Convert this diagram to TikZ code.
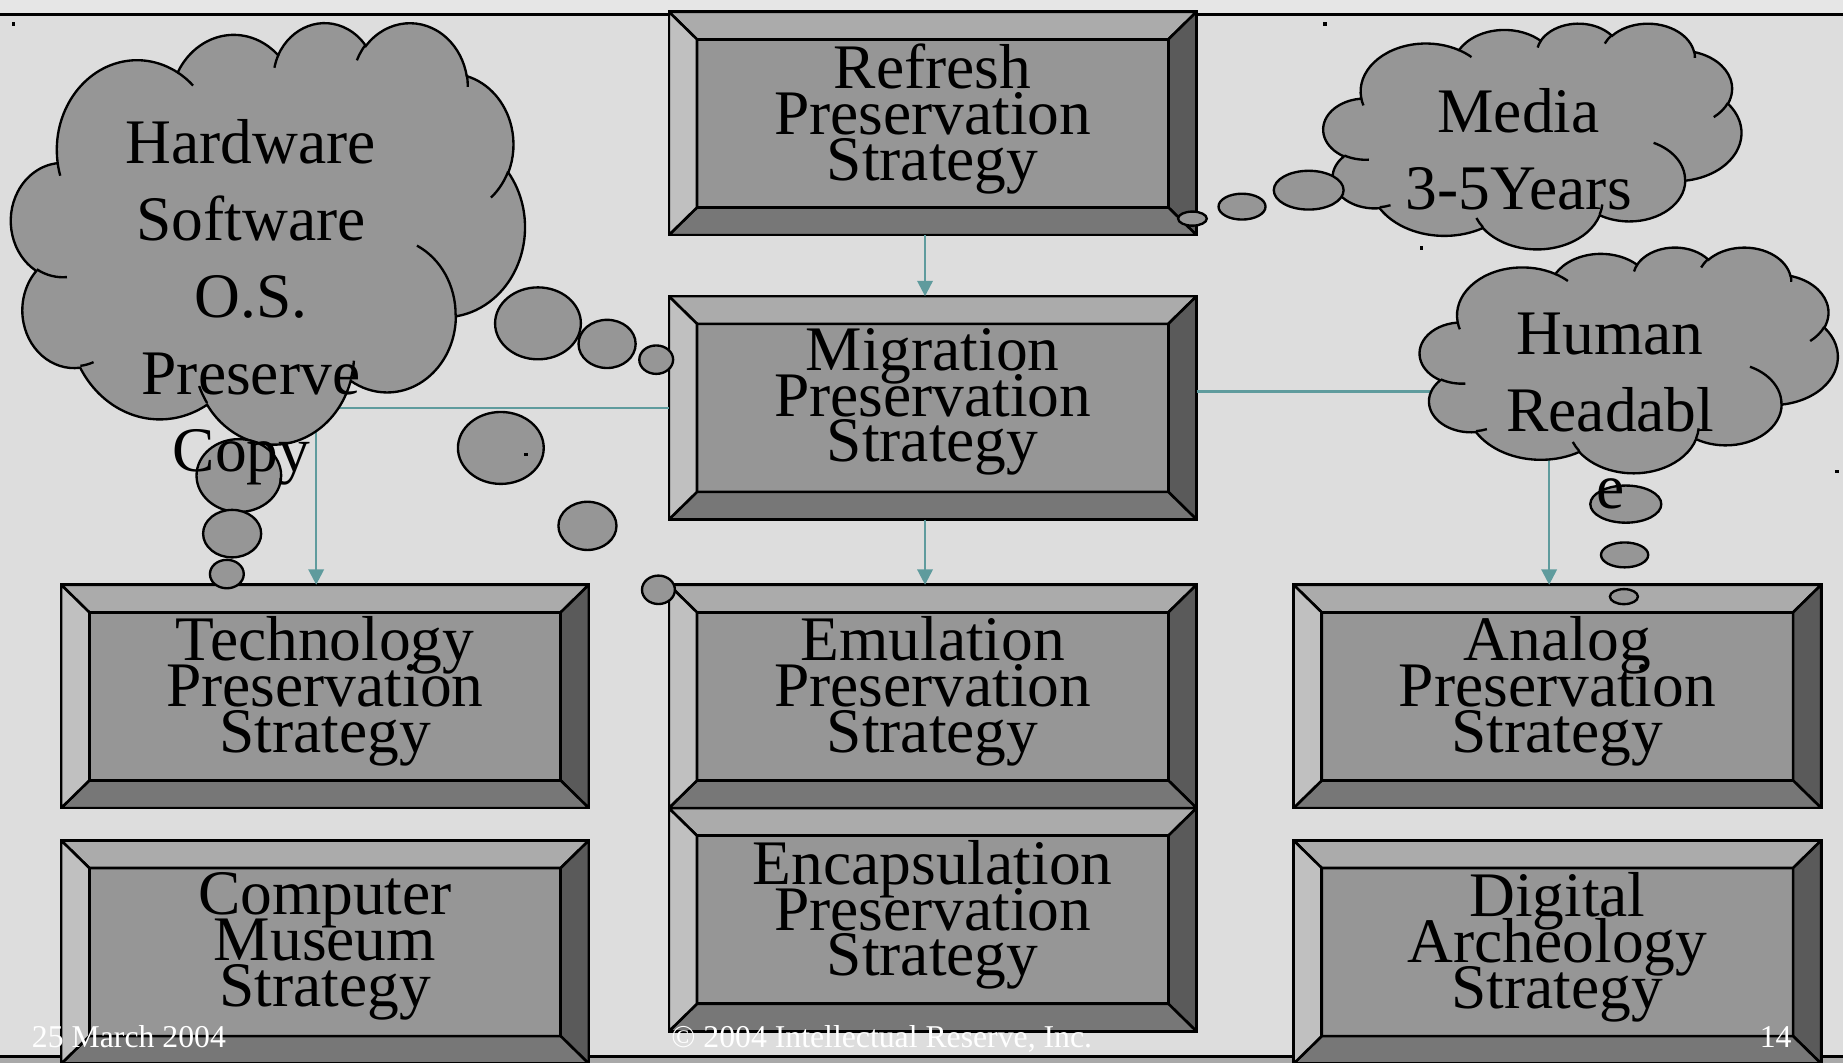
\documentclass[tikz,border=0pt]{standalone}
\usepackage{fontspec}
\setmainfont{Liberation Serif}
\usetikzlibrary{arrows.meta}
\definecolor{bgmain}{HTML}{DDDDDD}
\definecolor{bgtop}{HTML}{E6E6E6}
\definecolor{bgbot}{HTML}{A9A9A9}
\definecolor{face}{HTML}{969696}
\definecolor{bevT}{HTML}{ABABAB}
\definecolor{bevL}{HTML}{C0C0C0}
\definecolor{bevR}{HTML}{5A5A5A}
\definecolor{bevB}{HTML}{777777}
\definecolor{connc}{HTML}{5F9B9D}
\newcommand\boxfont{\fontsize{54pt}{39pt}\selectfont\lineskiplimit=-100pt\lineskip=0pt}
\newcommand\cloudfont{\fontsize{54pt}{65.6pt}\selectfont}
\newcommand\footfont{\fontsize{27pt}{30pt}\selectfont}
\tikzset{
  carc/.code n args={4}{%
    \pgfmathsetmacro\carcS{atan2((#1)*sin(#3),(#2)*cos(#3))}%
    \pgfmathsetmacro\carcE{atan2((#1)*sin((#3)+(#4)),(#2)*cos((#3)+(#4)))}%
    \pgfmathsetmacro\carcD{\carcE-\carcS}%
    \pgfmathsetmacro\carcD{\carcD+360*((#4)>0)*(\carcD<0)-360*((#4)<0)*(\carcD>0)}%
    \edef\carcTmp{\noexpand\pgfkeysalso{x radius=#1,y radius=#2,start angle=\carcS,delta angle=\carcD}}%
    \carcTmp},
  cloudst/.style={fill=face,draw=black,line width=2pt},
  stubst/.style={draw=black,line width=2pt},
  bevelbox/.style={draw=black,line width=2.2pt,fill=face,minimum width=449pt,minimum height=190pt,
    inner sep=0pt,outer sep=0pt,
    path picture={
      \coordinate (bA) at (path picture bounding box.north west);
      \coordinate (bC) at (path picture bounding box.south east);
      \coordinate (bB) at (bA -| bC);
      \coordinate (bD) at (bC -| bA);
      \coordinate (ba) at ([shift={(24,23.5)}]bA);
      \coordinate (bb) at ([shift={(-24,23.5)}]bB);
      \coordinate (bc) at ([shift={(-24,-23.5)}]bC);
      \coordinate (bd) at ([shift={(24,-23.5)}]bD);
      \filldraw[fill=bevT,draw=black,line width=2.2pt] (bA)--(bB)--(bb)--(ba)--cycle;
      \filldraw[fill=bevR,draw=black,line width=2.2pt] (bB)--(bC)--(bc)--(bb)--cycle;
      \filldraw[fill=bevB,draw=black,line width=2.2pt] (bC)--(bD)--(bd)--(bc)--cycle;
      \filldraw[fill=bevL,draw=black,line width=2.2pt] (bD)--(bA)--(ba)--(bd)--cycle;
      \draw[black,line width=2.2pt] (ba)--(bb)--(bc)--(bd)--cycle;
    }},
  btext/.style={font=\boxfont,align=center,anchor=north,inner sep=0pt},
  ctext/.style={font=\cloudfont,align=center,anchor=north,inner sep=0pt},
  foot/.style={font=\footfont,text=white,anchor=base west,inner sep=0pt},
  conn/.style={draw=connc,line width=2pt,-{Triangle[length=13pt,width=13pt]}},
}
\newcommand\pptcloud{%
  \filldraw[cloudst] (39.00,143.70)
    arc[carc={67.53}{91.90}{-190.48748}{123.78053}]
    arc[carc={53.33}{72.67}{-144.10238}{89.94523}]
    arc[carc={43.65}{59.45}{-145.80792}{99.72302}]
    arc[carc={48.57}{65.95}{-130.98607}{117.24173}]
    arc[carc={53.33}{72.73}{-78.70888}{109.02692}]
    arc[carc={67.75}{92.20}{-46.26725}{130.269}]
    arc[carc={57.85}{78.67}{0.62502}{114.03333}]
    arc[carc={67.52}{92.15}{22.4516}{115.17255}]
    arc[carc={77.20}{105.43}{66.24263}{75.71102}]
    arc[carc={43.60}{59.18}{-274.94208}{146.73557}]
    arc[carc={43.45}{59.45}{-246.8285}{152.51885}]
    -- cycle;
  \draw[stubst]
    (46.93,261.77) arc[carc={43.45}{59.45}{86.742}{26.4295}]
    (69.28,348.99) arc[carc={43.60}{59.18}{73.61047}{11.44747}]
    (164.78,390.90) arc[carc={67.52}{92.15}{137.62415}{14.0811}]
    (288.27,347.51) arc[carc={67.52}{92.15}{6.45327}{15.99835}]
    (341.29,229.54) arc[carc={57.85}{78.67}{-70.29235}{70.91737}]
    (417.98,153.54) arc[carc={53.33}{72.73}{30.31803}{27.7515}]
    (383.24,54.26) arc[carc={48.57}{65.95}{-13.74433}{14.8589}]
    (290.78,39.52) arc[carc={48.57}{65.95}{-149.18145}{18.19537}]
    (221.41,47.20) arc[carc={43.65}{59.45}{-163.49427}{17.68635}]
    (140.00,51.92) arc[carc={67.53}{91.90}{-66.70695}{12.31935}]
    (41.27,157.89) arc[carc={67.53}{91.90}{157.65435}{11.85817}];
}
\begin{document}
\begin{tikzpicture}[x=1pt,y=-1pt]
\useasboundingbox (0,0) rectangle (1568,904);
% background
\fill[bgmain] (0,0) rectangle (1568,904);
\fill[bgtop] (0,0) rectangle (1568,12);
\fill[bgbot] (0,899) rectangle (1568,904);
\draw[black,line width=2.5pt] (0,12) -- (1568,12);
\draw[black,line width=2.5pt] (0,898.5) -- (1568,898.5);
% boxes
\node[bevelbox] (refresh) at (793.5,105) {};
\node[bevelbox] (migration) at (793.5,347) {};
\node[bevelbox] (technology) at (276.5,592.5) {};
\node[bevelbox] (museum) at (276.5,810) {};
\node[bevelbox] (emulation) at (793.5,592.5) {};
\node[bevelbox] (encapsulation) at (793.5,782.5) {};
\node[bevelbox] (analog) at (1325,592.5) {};
\node[bevelbox] (digital) at (1325,810) {};
% connectors
\coordinate (cxa) at (787,0);
\coordinate (lx) at (269,347);
\coordinate (rx) at (1318,333);
\draw[conn] (refresh.south -| cxa) -- (migration.north -| cxa);
\draw[conn] (migration.south -| cxa) -- (emulation.north -| cxa);
\draw[conn] (migration.west |- lx) -| (technology.north -| lx);
\draw[conn] (migration.east |- rx) -| (analog.north -| rx);
% clouds
\begin{scope}[shift={(9.5,18.5)},x=1.01157pt,y=-0.82986pt]
  \pptcloud
\end{scope}
\begin{scope}[shift={(1126,19.5)},x=0.82292pt,y=-0.44444pt]
  \pptcloud
\end{scope}
\begin{scope}[shift={(1208,210)},x=0.82292pt,y=-0.44444pt]
  \pptcloud
\end{scope}
% bubbles
\draw[cloudst] (457.7,275.1) ellipse [x radius=36.5,y radius=30.6];
\draw[cloudst] (516.5,292.6) ellipse [x radius=24.3,y radius=20.5];
\draw[cloudst] (558.3,306) ellipse [x radius=14.4,y radius=12.1];
\draw[cloudst] (426.1,381.1) ellipse [x radius=36.5,y radius=30.6];
\draw[cloudst] (499.8,447.4) ellipse [x radius=24.7,y radius=20.5];
\draw[cloudst] (560.2,501.8) ellipse [x radius=14,y radius=12.1];
\draw[cloudst] (203.2,404.6) ellipse [x radius=36,y radius=31];
\draw[cloudst] (197.5,454) ellipse [x radius=24.7,y radius=20.2];
\draw[cloudst] (193,488.4) ellipse [x radius=14.4,y radius=12.1];
\draw[cloudst] (1113.4,161.8) ellipse [x radius=29.7,y radius=16.5];
\draw[cloudst] (1056.7,175.8) ellipse [x radius=20,y radius=11];
\draw[cloudst] (1014.5,186) ellipse [x radius=12.2,y radius=6];
\draw[cloudst] (1383.2,428.9) ellipse [x radius=30.2,y radius=15.8];
\draw[cloudst] (1382.2,472.1) ellipse [x radius=20.1,y radius=10.6];
\draw[cloudst] (1381.6,507.6) ellipse [x radius=11.9,y radius=6.4];
% box texts
\node[btext] (refresh-t) at (793.5,37.1) {Refresh\\Preservation\\Strategy};
\node[btext] (migration-t) at (793.5,279.1) {Migration\\Preservation\\Strategy};
\node[btext] (technology-t) at (276.5,524.6) {Technology\\Preservation\\Strategy};
\node[btext] (museum-t) at (276.5,742.1) {Computer\\Museum\\Strategy};
\node[btext] (emulation-t) at (793.5,524.6) {Emulation\\Preservation\\Strategy};
\node[btext] (encapsulation-t) at (793.5,714.6) {Encapsulation\\Preservation\\Strategy};
\node[btext] (analog-t) at (1325,524.6) {Analog\\Preservation\\Strategy};
\node[btext] (digital-t) at (1325,742.1) {Digital\\Archeology\\Strategy};
% cloud texts
\node[ctext] (hw-t) at (213.5,101.1) {Hardware\\Software\\O.S.\\Preserve\\Copy\hspace*{16pt}};
\node[ctext] (media-t) at (1292,74.8) {Media\\3-5Years};
\node[ctext] (human-t) at (1370,265.8) {Human\\Readabl\\e};
% small dots
\fill[black] (9.9,18.7) rectangle ++(3,3);
\fill[black] (1125.8,18.7) rectangle ++(3,3);
\fill[black] (1207.8,209.4) rectangle ++(3,3);
\fill[black] (1561.3,399.5) rectangle ++(3,3);
\fill[black] (445.9,385.3) rectangle ++(3,3);
% footer
\node[foot] (fdate) at (27,891) {25 March 2004};
\node[foot] (fcopy) at (571,891) {© 2004 Intellectual Reserve, Inc.};
\node[foot] (fpage) at (1497,891) {14};
\end{tikzpicture}
\end{document}
